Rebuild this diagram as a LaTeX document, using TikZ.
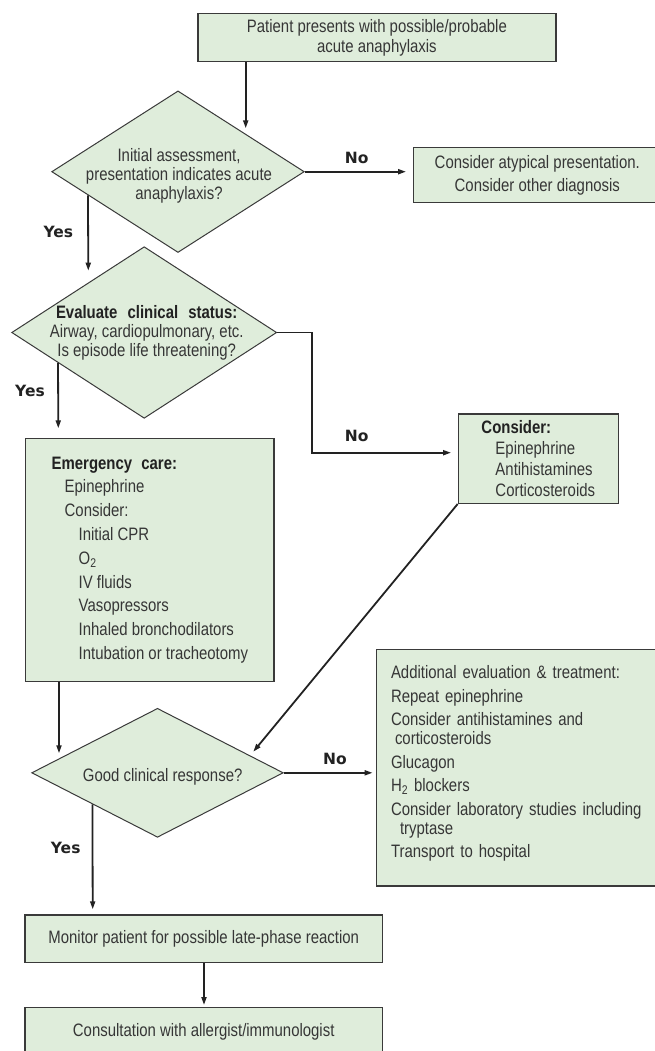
\documentclass[tikz,border=0pt]{standalone}
\usepackage{fontspec}
\setmainfont{Liberation Sans}[FakeStretch=0.83]
\newfontfamily\yesnofont{DejaVu Sans}
\usetikzlibrary{shapes.geometric,arrows.meta,calc}

\definecolor{boxfill}{HTML}{DFEDDB}
\definecolor{boxline}{HTML}{3A3A3A}
\definecolor{bodytext}{HTML}{363636}
\definecolor{darkline}{HTML}{222222}

\newcommand{\boxhead}[1]{{\bfseries\color{darkline}#1}}

\tikzset{
  box/.style={draw=boxline, fill=boxfill, line width=1.3bp, inner sep=0bp, text=bodytext, font=\fontsize{18bp}{20bp}\selectfont},
  choice/.style={diamond, draw=boxline, fill=boxfill, line width=1bp, inner sep=0bp},
  choicetext/.style={text=bodytext, align=center, inner sep=0bp, font=\fontsize{18bp}{19bp}\selectfont},
  answer/.style={text=darkline, inner sep=0bp, font=\yesnofont\bfseries\fontsize{15.5bp}{18bp}\selectfont},
  flow/.style={draw=darkline, line width=1.8bp, -{Triangle[length=8bp,width=5bp]}},
}

\begin{document}
\begin{tikzpicture}[x=1bp,y=1bp,yscale=-1]
\useasboundingbox (0,0) rectangle (655,1051);

%Shape: Rectangle [start]
\draw (376.9,37.5) node (start) [box, minimum width=358bp, minimum height=48.4bp, align=center] {Patient presents with possible/probable\\acute anaphylaxis};
%Shape: Diamond [initial]
\draw (178,171.7) node (initial) [choice, minimum width=252.6bp, minimum height=161.6bp] {};
% Text Node
\draw (179,175.5) node (initialtext) [choicetext] {Initial assessment,\\presentation indicates acute\\anaphylaxis?};
%Shape: Rectangle [atypical]
\draw (537.3,175.2) node (atypical) [box, minimum width=248bp, minimum height=55bp, align=center, font=\fontsize{18bp}{23bp}\selectfont] {Consider atypical presentation.\\Consider other diagnosis};

%Shape: Diamond [evaluate]
\draw (144.2,332.5) node (evaluate) [choice, minimum width=265bp, minimum height=171.6bp] {};
% Text Node
\draw (146.7,332.5) node (evaluatetext) [choicetext] {\boxhead{Evaluate\hspace{6bp} clinical\hspace{6bp} status:}\\Airway, cardiopulmonary, etc.\\Is episode life threatening?};

%Shape: Rectangle [emergency]
\draw (149.9,560) node (emergency) [box, minimum width=248.3bp, minimum height=243.4bp, align=left, font=\fontsize{18bp}{23.8bp}\selectfont] {\boxhead{Emergency\hspace{5bp} care:}\\
  \hspace*{13bp}Epinephrine\\
  \hspace*{13bp}Consider:\\
  \hspace*{27bp}Initial CPR\\
  \hspace*{27bp}O\textsubscript{2}\\
  \hspace*{27bp}IV fluids\\
  \hspace*{27bp}Vasopressors\\
  \hspace*{27bp}Inhaled bronchodilators\\
  \hspace*{27bp}Intubation or tracheotomy};

%Shape: Rectangle [consider]
\draw (538.3,458.7) node (consider) [box, minimum width=160bp, minimum height=89.3bp, align=left, font=\fontsize{18bp}{21bp}\selectfont] {\boxhead{Consider:}\\
  \hspace*{14bp}Epinephrine\\
  \hspace*{14bp}Antihistamines\\
  \hspace*{14bp}Corticosteroids};

%Shape: Diamond [good]
\draw (157.5,772.8) node (good) [choice, minimum width=251.6bp, minimum height=129bp] {};
% Text Node
\draw (162.7,776.7) node (goodtext) [choicetext] {Good clinical response?};

%Shape: Rectangle [additional]
\draw (518.3,767.7) node (additional) [box, minimum width=283.3bp, minimum height=236.7bp, inner xsep=14.3bp, text width=254.6bp, align=left, font=\fontsize{18bp}{19bp}\selectfont] {Additional evaluation \& treatment:\\[4.5bp]
  Repeat epinephrine\\[4.5bp]
  Consider antihistamines and\\
  \hspace*{4bp}corticosteroids\\[4.5bp]
  Glucagon\\[4.5bp]
  H\textsubscript{2} blockers\\[4.5bp]
  Consider laboratory studies including\\
  \hspace*{9bp}tryptase\\[4.5bp]
  Transport to hospital\\[-7bp]\mbox{}};

%Shape: Rectangle [monitor]
\draw (203.7,938.7) node (monitor) [box, minimum width=357.3bp, minimum height=47.3bp] {Monitor patient for possible late-phase reaction};
%Shape: Rectangle [consult]
\draw (203.7,1031.7) node (consult) [box, minimum width=357.3bp, minimum height=49bp] {Consultation with allergist/immunologist};

% Text Node
\draw (356.7,158.3) node (noa) [answer] {No};
% Text Node
\draw (58.3,231.7) node (yesa) [answer] {Yes};
% Text Node
\draw (30,391) node (yesb) [answer] {Yes};
% Text Node
\draw (356.7,436) node (nob) [answer] {No};
% Text Node
\draw (335,759.3) node (noc) [answer] {No};
% Text Node
\draw (65.7,848.3) node (yesc) [answer] {Yes};

\coordinate (initialin) at (245.7,128.3);
\coordinate (yesaend) at (88.3,270.7);
\coordinate (yesbend) at (58.3,428.3);
\coordinate (nobbend) at (312.3,452.7);
\coordinate (goodin) at (253.3,751.7);
\coordinate (goodleftin) at (59,753.3);
\coordinate (yescend) at (92.7,909.3);
\coordinate (consultin) at (204,1005);

%Straight Lines
\draw [flow] (start.south -| initialin) -- (initialin);
%Straight Lines
\draw [flow, shorten >=6.6bp] (initial.east) -- (initial.east -| atypical.west);
%Straight Lines
\draw [flow] ($(initial.west)!0.29!(initial.south)$) -- (yesaend);
%Straight Lines
\draw [flow] ($(evaluate.west)!0.352!(evaluate.south)$) -- (yesbend);
%Straight Lines
\draw [flow, shorten >=6.6bp] (evaluate.east) -| (nobbend) -- (nobbend -| consider.west);
%Straight Lines
\draw [flow] (consider.south west) -- (goodin);
%Straight Lines
\draw [flow] (emergency.south -| goodleftin) -- (goodleftin);
%Straight Lines
\draw [flow, shorten >=3.4bp] (good.east) -- (good.east -| additional.west);
%Straight Lines
\draw [flow] ($(good.west)!0.485!(good.south)$) -- (yescend);
%Straight Lines
\draw [flow] (monitor.south -| consultin) -- (consultin);
\end{tikzpicture}
\end{document}
